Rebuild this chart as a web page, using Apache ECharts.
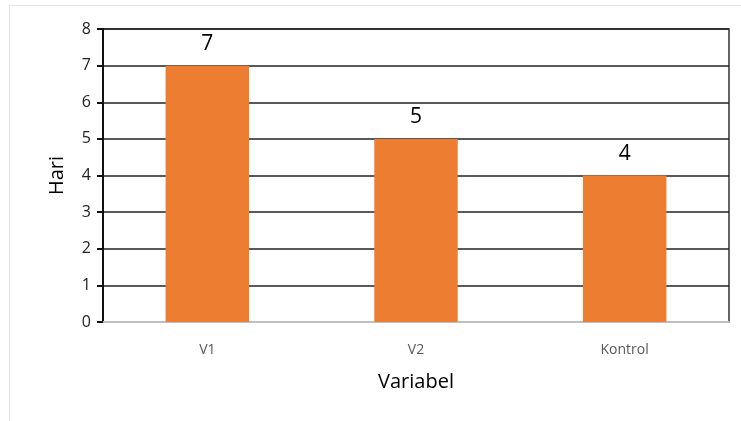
<!DOCTYPE html>
<html>
<head>
<meta charset="utf-8">
<script src="https://cdn.jsdelivr.net/npm/echarts@6/dist/echarts.min.js"></script>
<style>
html,body{margin:0;padding:0;background:#fff;}
#frame{position:absolute;left:9px;top:5px;width:740px;height:430px;border-left:1px solid #e4e4e4;border-top:1px solid #e4e4e4;}
#chart{position:absolute;left:0;top:0;width:741px;height:421px;}
</style>
</head>
<body>
<div id="frame"></div>
<div id="chart"></div>
<script>
const categories = ['V1', 'V2', 'Kontrol'];
const hari = [7, 5, 4];
const yTicks = [0, 1, 2, 3, 4, 5, 6, 7, 8];

const chart = echarts.init(document.getElementById('chart'), null, {renderer: 'canvas'});
chart.setOption({
  animation: false,
  grid: {left: 103, right: 12, top: 29, bottom: 99, show: true, borderColor: '#333', borderWidth: 1.5, backgroundColor: 'transparent'},
  xAxis: {
    type: 'category',
    data: categories,
    name: 'Variabel',
    nameLocation: 'middle',
    nameGap: 50,
    nameTextStyle: {fontFamily: 'Open Sans', fontSize: 20, color: '#000'},
    axisLine: {show: true, lineStyle: {color: '#bfbfbf', width: 2}},
    axisTick: {show: false},
    axisLabel: {fontFamily: 'Open Sans', fontSize: 14, color: '#595959', margin: 21}
  },
  yAxis: {
    type: 'value',
    min: 0, max: 8, interval: 1,
    name: 'Hari',
    nameLocation: 'middle',
    nameGap: 36,
    nameTextStyle: {fontFamily: 'Open Sans', fontSize: 20, color: '#000'},
    axisLine: {show: true, lineStyle: {color: '#111', width: 2}},
    axisTick: {show: true, length: 6, lineStyle: {color: '#111', width: 2}},
    axisLabel: {fontFamily: 'Open Sans', fontSize: 16, color: '#222', margin: 12,
      formatter: v => yTicks.includes(v) ? String(v) : ''},
    splitLine: {show: true, lineStyle: {color: '#222', width: 1.5}}
  },
  series: [{
    type: 'bar',
    data: hari,
    barWidth: '40%',
    itemStyle: {color: '#ed7d31'},
    label: {show: true, position: 'top', distance: 11, fontFamily: 'Open Sans', fontSize: 21, color: '#000'}
  }]
});
</script>
</body>
</html>
